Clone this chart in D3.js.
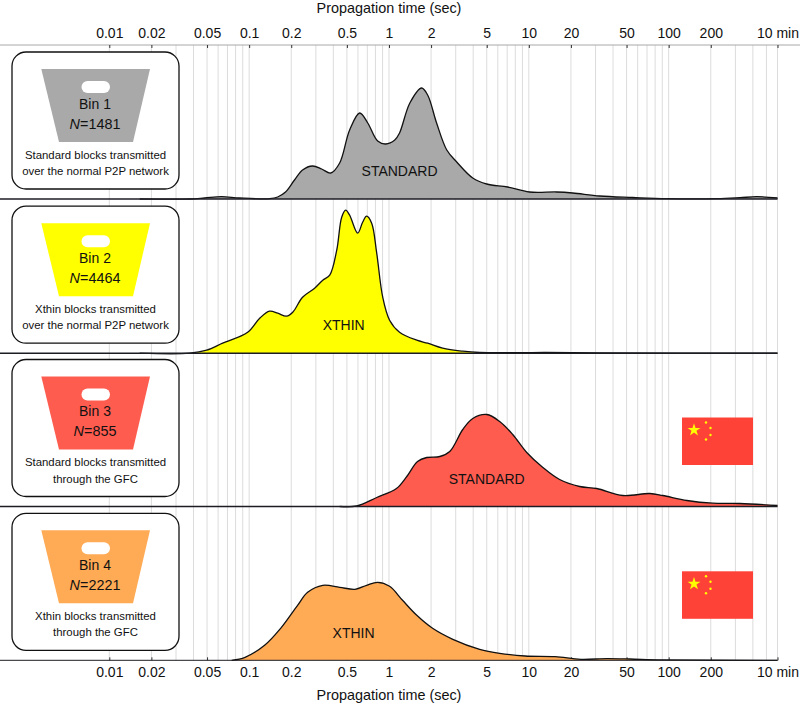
<!DOCTYPE html>
<html>
<head>
<meta charset="utf-8">
<script src="https://cdn.jsdelivr.net/npm/d3@7/dist/d3.min.js"></script>
<style>
html, body { margin: 0; padding: 0; background: #fff; }
svg { display: block; }
text { font-family: "Liberation Sans", Arial, sans-serif; fill: #111; }
</style>
</head>
<body>
<div id="graphic"></div>
<script>
// Propagation time densities, time in seconds, density in arbitrary units

var bin1_time = [0.0165, 0.0375, 0.048, 0.0635, 0.0855, 0.14, 0.16, 0.182, 0.211, 0.241, 0.284, 0.33, 0.383, 0.444, 0.523, 0.617, 0.705, 0.83, 0.947, 1.10, 1.19, 1.41, 1.71, 1.89, 2.19, 2.59, 3.05, 3.97, 5.0, 7.06, 10.1, 15.8, 20.6, 32.1, 55.3, 96.9, 221, 323, 427, 600];
var bin1_density = [0, 0, 0.01, 0.023, 0.01, 0.003, 0.02, 0.07, 0.19, 0.29, 0.33, 0.30, 0.26, 0.36, 0.69, 0.86, 0.76, 0.58, 0.55, 0.59, 0.66, 0.96, 1.11, 1.04, 0.76, 0.49, 0.37, 0.21, 0.15, 0.12, 0.07, 0.07, 0.06, 0.03, 0.015, 0.003, 0.003, 0.013, 0.023, 0.01];

var bin2_time = [0.0165, 0.0375, 0.0497, 0.0646, 0.0976, 0.119, 0.14, 0.16, 0.185, 0.205, 0.241, 0.294, 0.336, 0.377, 0.423, 0.459, 0.49, 0.523, 0.597, 0.648, 0.692, 0.752, 0.817, 0.902, 1.01, 1.19, 1.58, 1.89, 2.42, 3.37, 4.45, 8.6, 13, 32, 600];
var bin2_density = [0, 0, 0.03, 0.10, 0.21, 0.35, 0.42, 0.40, 0.37, 0.41, 0.56, 0.65, 0.73, 0.78, 1.03, 1.36, 1.43, 1.38, 1.20, 1.31, 1.37, 1.30, 1.00, 0.56, 0.33, 0.21, 0.13, 0.10, 0.05, 0.02, 0.007, 0.005, 0.008, 0.002, 0.001];

var bin3_time = [0.444, 0.587, 0.817, 1.13, 1.34, 1.6, 1.86, 2.31, 2.72, 3.37, 3.97, 5.0, 6.19, 7.67, 9.66, 12.6, 16.6, 23.1, 30.6, 47, 73.3, 90.7, 135, 207, 323, 600];
var bin3_density = [0, 0.005, 0.09, 0.18, 0.30, 0.45, 0.49, 0.50, 0.55, 0.77, 0.88, 0.92, 0.85, 0.72, 0.54, 0.39, 0.27, 0.20, 0.18, 0.11, 0.13, 0.11, 0.06, 0.033, 0.03, 0.01];

var bin4_time = [0.075, 0.0935, 0.129, 0.168, 0.222, 0.262, 0.336, 0.444, 0.572, 0.692, 0.83, 1.01, 1.25, 1.58, 2.05, 2.86, 4.45, 6.19, 9.4, 15.4, 23.5, 36.2, 52.8, 89, 600];
var bin4_density = [0, 0.03, 0.15, 0.32, 0.55, 0.68, 0.75, 0.73, 0.71, 0.75, 0.78, 0.74, 0.60, 0.45, 0.32, 0.21, 0.11, 0.07, 0.043, 0.037, 0.01, 0.017, 0.013, 0.004, 0];

var tick_values = [0.01, 0.02, 0.05, 0.1, 0.2, 0.5, 1, 2, 5, 10, 20, 50, 100, 200, 600];
var tick_labels = ["0.01", "0.02", "0.05", "0.1", "0.2", "0.5", "1", "2", "5", "10", "20", "50", "100", "200", "10 min"];
var grid_values = [0.01, 0.02, 0.03, 0.04, 0.05, 0.06, 0.07, 0.08, 0.09, 0.1, 0.2, 0.3, 0.4, 0.5, 0.6, 0.7, 0.8, 0.9, 1, 2, 3, 4, 5, 6, 7, 8, 9, 10, 20, 30, 40, 50, 60, 70, 80, 90, 100, 200, 300, 400, 500, 600];

var bin_names = ["Bin 1", "Bin 2", "Bin 3", "Bin 4"];
var bin_counts = ["1481", "4464", "855", "2221"];
var bin_kinds = ["STANDARD", "XTHIN", "STANDARD", "XTHIN"];
var kind_anchor_time = [1.19, 0.474, 5.0, 0.558];
var caption_first = ["Standard blocks transmitted", "Xthin blocks transmitted", "Standard blocks transmitted", "Xthin blocks transmitted"];
var caption_second = ["over the normal P2P network", "over the normal P2P network", "through the GFC", "through the GFC"];
var bin_colors = ["#a9a9a9", "#ffff00", "#ff5c50", "#ffaa55"];
var has_flag = [false, false, true, true];
var bin_times = [bin1_time, bin2_time, bin3_time, bin4_time];
var bin_densities = [bin1_density, bin2_density, bin3_density, bin4_density];

var width = 800;
var height = 706;
var baselines = [199, 353.2, 506.5, 660.3];
var top_axis_y = 45;

function draw_graphic() {
    var svg = d3.select('#graphic').append('svg')
        .attr('width', width)
        .attr('height', height);

    var x = d3.scaleLog().domain([0.01, 600]).range([109.3, 777.5]);
    var y = d3.scaleLinear().domain([0, 1.5]).range([0, -150]);

    // grid sits under everything, cards hide it on the left
    svg.append('g').selectAll('line')
        .data(grid_values)
        .enter().append('line')
        .attr('x1', function(d) { return x(d); })
        .attr('x2', function(d) { return x(d); })
        .attr('y1', top_axis_y)
        .attr('y2', baselines[3])
        .attr('stroke', '#dcdcdc')
        .attr('stroke-width', 1);

    svg.append('line')
        .attr('x1', 0).attr('x2', width)
        .attr('y1', top_axis_y).attr('y2', top_axis_y)
        .attr('stroke', '#a8a8a8');

    var axis_top = d3.axisTop(x)
        .tickValues(tick_values)
        .tickFormat(function(d, i) { return tick_labels[i]; })
        .tickSize(-3)
        .tickPadding(7.3);

    var axis_bottom = d3.axisBottom(x)
        .tickValues(tick_values)
        .tickFormat(function(d, i) { return tick_labels[i]; })
        .tickSize(-3)
        .tickPadding(6.8);

    var g_top = svg.append('g').attr('transform', 'translate(0,' + top_axis_y + ')').call(axis_top);
    var g_bottom = svg.append('g').attr('transform', 'translate(0,' + baselines[3] + ')').call(axis_bottom);
    [g_top, g_bottom].forEach(function(g) {
        g.select('.domain').remove();
        g.selectAll('text').style('font-size', '14px').style('font-family', '"Liberation Sans", Arial, sans-serif').attr('fill', '#111');
        g.selectAll('line').attr('stroke', '#333');
    });

    svg.append('text').attr('x', 389).attr('y', 12.5).attr('text-anchor', 'middle')
        .style('font-size', '14.4px').text('Propagation time (sec)');
    svg.append('text').attr('x', 389).attr('y', 700).attr('text-anchor', 'middle')
        .style('font-size', '14.4px').text('Propagation time (sec)');

    bin_names.forEach(function(name, i) {
        render_panel(svg, i, x, y);
    });
}

function render_panel(svg, i, x, y) {
    var base = baselines[i];
    var g = svg.append('g').attr('transform', 'translate(0,' + base + ')');
    var points = d3.zip(bin_times[i], bin_densities[i]);

    var area = d3.area()
        .x(function(d) { return x(d[0]); })
        .y0(0)
        .y1(function(d) { return Math.min(y(d[1]), 0); })
        .curve(d3.curveCatmullRom.alpha(0.5));

    var line = d3.line()
        .x(function(d) { return x(d[0]); })
        .y(function(d) { return y(d[1]); })
        .curve(d3.curveCatmullRom.alpha(0.5));

    g.append('path').datum(points).attr('d', area).attr('fill', bin_colors[i]);
    g.append('path').datum(points).attr('d', line)
        .attr('fill', 'none').attr('stroke', '#111').attr('stroke-width', 1.3);

    // baseline runs from the page edge to the 10 min tick
    g.append('line')
        .attr('x1', 0).attr('x2', x(600))
        .attr('y1', 0).attr('y2', 0)
        .attr('stroke', '#1c1c24')
        .attr('stroke-width', i == 3 ? 1 : 1.5);

    g.append('text')
        .attr('x', x(kind_anchor_time[i]))
        .attr('y', [-23, -23, -22.5, -22][i])
        .attr('text-anchor', 'middle')
        .style('font-size', '14px')
        .text(bin_kinds[i]);

    render_card(g, i);

    if (has_flag[i]) {
        render_flag(g);
    }
}

function render_card(g, i) {
    var card = g.append('g').attr('transform', 'translate(12,-147)');

    card.append('rect')
        .attr('x', 0).attr('y', 0)
        .attr('width', 167).attr('height', 137)
        .attr('rx', 14).attr('ry', 14)
        .attr('fill', '#fff').attr('stroke', '#111').attr('stroke-width', 1.3);

    card.append('path')
        .attr('d', 'M29.3,17H138L121,90H47Z')
        .attr('fill', bin_colors[i]);

    card.append('rect')
        .attr('x', 69.5).attr('y', 29)
        .attr('width', 28.5).attr('height', 12)
        .attr('rx', 6).attr('ry', 6)
        .attr('fill', '#fff');

    card.append('text').attr('x', 83).attr('y', 56.7).attr('text-anchor', 'middle')
        .style('font-size', '14px').text(bin_names[i]);

    var n = card.append('text').attr('x', 83).attr('y', 76.7).attr('text-anchor', 'middle')
        .style('font-size', '14.4px');
    n.append('tspan').style('font-style', 'italic').text('N');
    n.append('tspan').text('=' + bin_counts[i]);

    card.append('text').attr('x', 83.5).attr('y', 106.8).attr('text-anchor', 'middle')
        .style('font-size', '11.4px').text(caption_first[i]);
    card.append('text').attr('x', 83.5).attr('y', 123).attr('text-anchor', 'middle')
        .style('font-size', '11.4px').text(caption_second[i]);
}

function render_flag(g) {
    var flag = g.append('g').attr('transform', 'translate(682,-89)');

    flag.append('rect')
        .attr('width', 71).attr('height', 47.5)
        .attr('fill', '#ff4238');

    flag.append('path')
        .attr('d', d3.symbol().type(d3.symbolStar).size(52))
        .attr('transform', 'translate(12,12.5)')
        .attr('fill', '#ffff00');

    flag.selectAll('circle')
        .data([[24, 5], [28.5, 10.5], [28.5, 17.5], [24, 22]])
        .enter().append('circle')
        .attr('cx', function(d) { return d[0]; })
        .attr('cy', function(d) { return d[1]; })
        .attr('r', 1.2)
        .attr('fill', '#ffff00');
}

draw_graphic();
</script>
</body>
</html>
